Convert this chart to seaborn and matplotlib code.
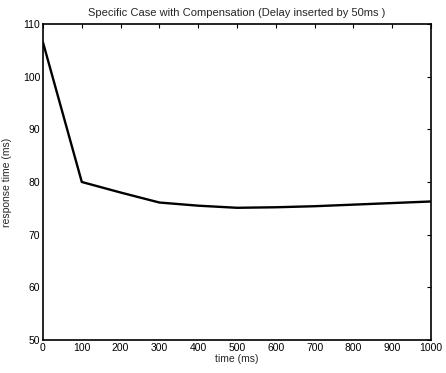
import numpy as np
import pandas as pd
import matplotlib
matplotlib.use("Agg")
import matplotlib.pyplot as plt
import seaborn as sns

# values
time_ms = [0, 100, 200, 300, 400, 500, 600, 700, 800, 900, 1000]
response_ms = [106.5, 80.0, 78.0, 76.1, 75.5, 75.1, 75.2, 75.4, 75.7, 76.0, 76.3]

x_ticks = [0, 100, 200, 300, 400, 500, 600, 700, 800, 900, 1000]
y_ticks = [50, 60, 70, 80, 90, 100, 110]

df = pd.DataFrame({"time": time_ms, "response": response_ms})

sns.set_style("white")
plt.rcParams["font.family"] = ["Liberation Sans", "DejaVu Sans"]

fig = plt.figure(figsize=(4.46, 3.73), dpi=100)
ax = fig.add_axes([0.0964, 0.0885, 0.8700, 0.8472])

sns.lineplot(data=df, x="time", y="response", color="black", linewidth=1.7, ax=ax)

ax.set_xlim(0, 1000)
ax.set_ylim(50, 110)
ax.set_xticks(x_ticks)
ax.set_yticks(y_ticks)
ax.tick_params(direction="in", length=3, width=0.8, labelsize=7.5,
               top=True, right=True, pad=2, colors="black")
for side in ax.spines.values():
    side.set_color("black")
    side.set_linewidth(1.2)

ax.set_xlabel("time (ms)", fontsize=7.5, labelpad=1)
ax.set_ylabel("response time (ms)", fontsize=7.5, labelpad=8)
ax.set_title("Specific Case with Compensation (Delay inserted by 50ms )", fontsize=8, pad=6)

fig.savefig("out.png", dpi=100)
